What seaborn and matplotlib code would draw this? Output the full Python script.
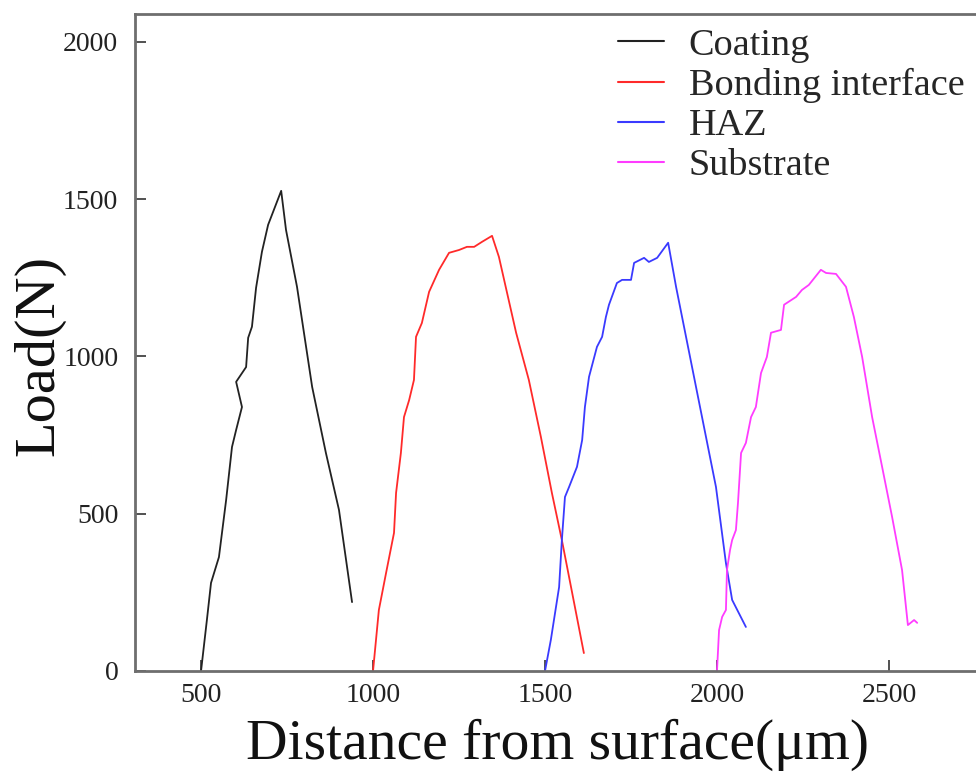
import numpy as np
import pandas as pd
import matplotlib
matplotlib.use("Agg")
import matplotlib.pyplot as plt
import seaborn as sns

# Scratch-test load curves, one per zone (distance in µm, load in N)
coating_x = [500, 517, 529, 552, 573, 590, 602, 619, 602, 631, 637, 648, 660, 677, 695, 733,
             747, 779, 823, 863, 901, 939]
coating_y = [0, 162, 280, 362, 544, 712, 766, 839, 919, 966, 1059, 1094, 1218, 1332, 1418, 1526,
             1402, 1221, 903, 693, 512, 219]

bonding_x = [1000, 1017, 1038, 1061, 1067, 1081, 1090, 1105, 1119, 1125, 1142, 1163, 1192, 1221,
             1250, 1273, 1294, 1317, 1346, 1366, 1416, 1453, 1488, 1520, 1549, 1579, 1613]
bonding_y = [0, 194, 312, 439, 566, 693, 807, 861, 925, 1062, 1106, 1205, 1275, 1329,
             1338, 1348, 1348, 1364, 1383, 1316, 1075, 925, 744, 566, 416, 248, 57]

haz_x = [1500, 1517, 1541, 1549, 1558, 1570, 1593, 1608, 1616, 1628, 1651, 1666, 1677, 1686,
         1709, 1724, 1750, 1759, 1788, 1802, 1826, 1858, 1881, 1910, 1939, 1968, 1997, 2026,
         2044, 2084]
haz_y = [0, 99, 267, 416, 553, 585, 649, 734, 839, 935, 1030, 1062, 1125, 1164,
         1233, 1243, 1243, 1297, 1313, 1300, 1313, 1361, 1221, 1062, 903, 744, 585, 343,
         226, 140]

substrate_x = [2000, 2006, 2015, 2026, 2029, 2038, 2044, 2055, 2061, 2070, 2084, 2099, 2113,
               2128, 2145, 2157, 2186, 2195, 2230, 2247, 2267, 2302, 2317, 2346, 2375, 2398,
               2422, 2451, 2480, 2509, 2538, 2555, 2573, 2582]
substrate_y = [0, 130, 172, 194, 321, 385, 416, 448, 534, 693, 725, 807, 839,
               947, 998, 1075, 1084, 1164, 1189, 1211, 1227, 1275, 1265, 1262, 1221, 1125,
               998, 807, 649, 490, 321, 146, 162, 153]

series_names = ["Coating", "Bonding interface", "HAZ", "Substrate"]
series_x = [coating_x, bonding_x, haz_x, substrate_x]
series_y = [coating_y, bonding_y, haz_y, substrate_y]

x_ticks = [500, 1000, 1500, 2000, 2500]
y_ticks = [0, 500, 1000, 1500, 2000]

frames = []
for name, xs, ys in zip(series_names, series_x, series_y):
    frames.append(pd.DataFrame({"distance": xs, "load": ys, "zone": name,
                                "order": np.arange(len(xs))}))
df = pd.concat(frames, ignore_index=True)

sns.set_theme(style="ticks")
plt.rcParams["font.family"] = ["Liberation Serif", "DejaVu Serif"]

palette = {"Coating": "#222222", "Bonding interface": "#ff2a2a",
           "HAZ": "#3a3aff", "Substrate": "#ff3cff"}

fig = plt.figure(figsize=(9.76, 7.78), dpi=100)
W, H = 976, 778
left, right, top, bottom = 135, 976, 14, 671
ax = fig.add_axes([left / W, 1 - bottom / H, (right - left) / W, (bottom - top) / H])

sns.lineplot(data=df, x="distance", y="load", hue="zone", units="zone", estimator=None,
             sort=False, palette=palette, hue_order=series_names, linewidth=1.3,
             legend=False, ax=ax)

ax.set_xlim(308, 2753)
ax.set_ylim(0, 2088)
ax.set_xticks(x_ticks)
ax.set_yticks(y_ticks)
ax.tick_params(direction="in", length=8, width=1.2, color="#333333", labelsize=20,
               labelcolor="#222222")
ax.tick_params(axis="y", pad=12)
ax.tick_params(axis="x", pad=9)

for side in ["left", "bottom", "top"]:
    ax.spines[side].set_color("#6e6e6e")
    ax.spines[side].set_linewidth(2.0)
ax.spines["right"].set_visible(False)

ax.set_xlabel("Distance from surface(μm)", fontsize=41.5, color="#111111")
ax.set_ylabel("Load(N)", fontsize=42, color="#111111")
ax.xaxis.set_label_coords(0.502, -0.073)
ax.yaxis.set_label_coords(-0.083, 0.481)

handles = [plt.Line2D([], [], color=palette[n], linewidth=1.5) for n in series_names]
fig.legend(handles, series_names, loc="upper left", bbox_to_anchor=(618 / W, 1 - 28 / H),
           frameon=False, fontsize=27.5, handlelength=1.2, handletextpad=0.65,
           labelspacing=0.14, borderpad=0, borderaxespad=0)

fig.savefig("out.png", dpi=100, facecolor="white")
